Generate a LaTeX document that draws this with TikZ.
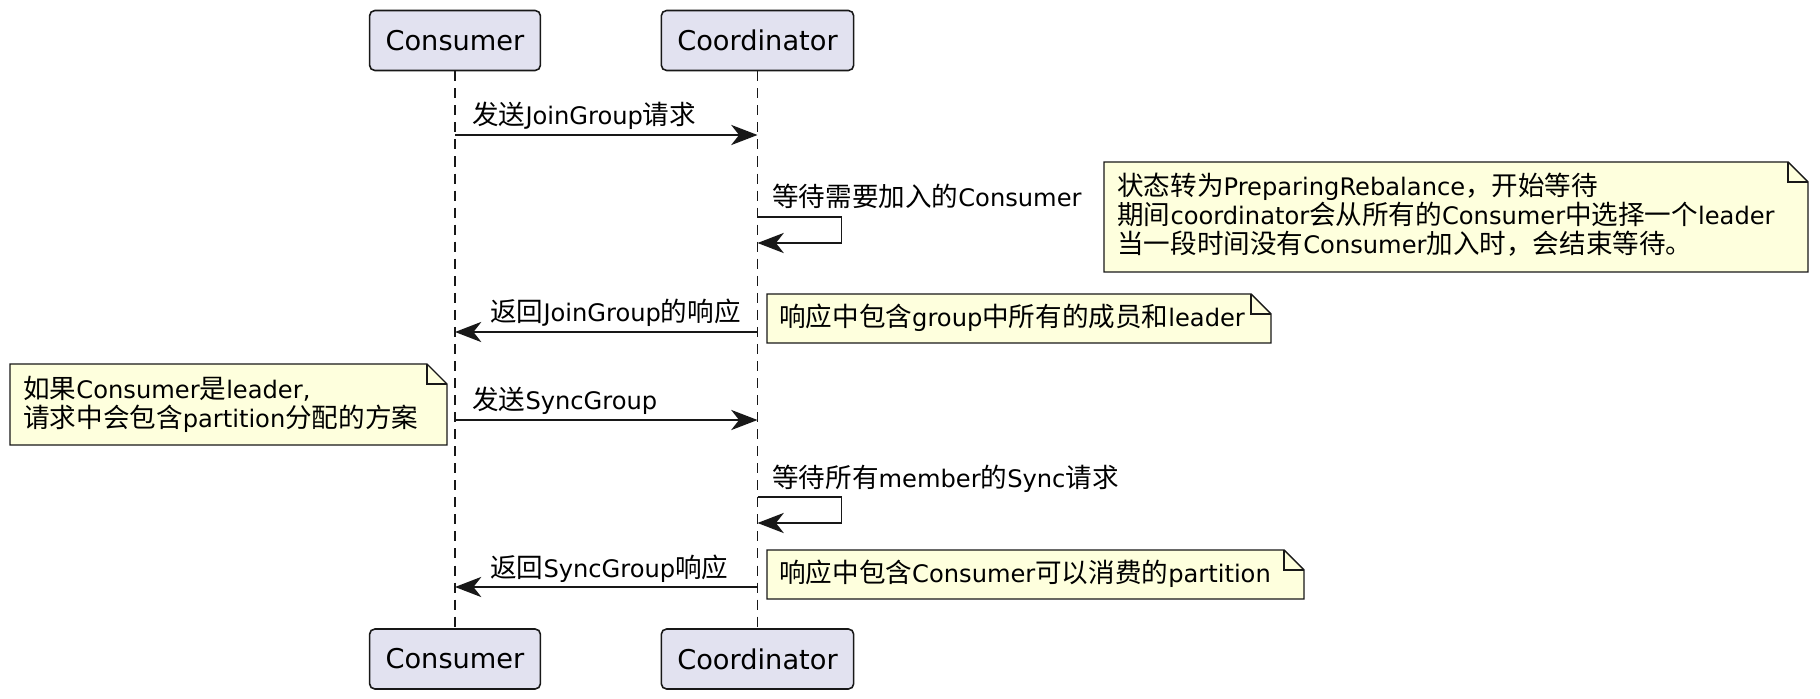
\documentclass[tikz,border=0pt]{standalone}
\usepackage{fontspec}
\setmainfont{DejaVu Sans}
\newfontfamily\cjk[Scale=1.1]{Noto Sans CJK SC}
\usetikzlibrary{arrows.meta}

\definecolor{linecol}{HTML}{181818}
\definecolor{actorfill}{HTML}{E2E2F0}
\definecolor{notefill}{HTML}{FEFFDD}
\AtBeginDocument{\lineskiplimit=-20pt\relax}

\begin{document}
\begin{tikzpicture}[
    x=0.02cm, y=-0.02cm,
    actor/.style={draw=linecol, fill=actorfill, rounded corners=3pt, line width=0.9pt,
        inner xsep=0.32cm, minimum height=1.2cm, font=\fontsize{15.5}{18}\selectfont},
    lifeline/.style={draw=linecol, line width=0.6pt, dash pattern=on 5.7pt off 4pt},
    msg/.style={draw=linecol, line width=1.1pt, -{Stealth[length=15pt, width=11.5pt, inset=4.5pt]}},
    lbl/.style={inner sep=0pt, anchor=base west, font=\fontsize{13.75}{16}\selectfont},
    notebox/.style={draw=linecol, fill=notefill, line width=0.8pt, line join=miter},
    notetext/.style={inner sep=0pt, anchor=west, align=left,
        font=\fontsize{13.75}{16.6}\selectfont}
]
    \useasboundingbox (0,0) rectangle (1820,699);

    % participants
    \node[actor] (cons) at (455,40.5) {Consumer};
    \node[actor] (coord) at (757.5,40.5) {Coordinator};
    \node[actor] (consB) at (455,659) {Consumer};
    \node[actor] (coordB) at (757.5,659) {Coordinator};
    \draw[lifeline] (cons.south) -- (consB.north);
    \draw[lifeline] (coord.south) -- (coordB.north);

    % JoinGroup
    \draw[msg] (cons.south |- 0,135) -- (coord.south |- 0,135);
    \node[lbl] (m1) at (472,125) {{\cjk 发送}JoinGroup{\cjk 请求}};

    \draw[msg] (coord.south |- 0,217) -- ++(84,0) -- ++(0,26) -- (coord.south |- 0,243);
    \node[lbl] (m2) at (772,207) {{\cjk 等待需要加入的}Consumer};

    \draw[notebox] (1104,162) -- (1788,162) -- (1808,182) -- (1808,272) -- (1104,272) -- cycle;
    \draw[notebox, fill=none] (1788,162) -- (1788,182) -- (1808,182);
    \node[notetext] (n1) at (1117,215) {{\cjk 状态转为}PreparingRebalance{\cjk ，开始等待}\\
        {\cjk 期间}coordinator{\cjk 会从所有的}Consumer{\cjk 中选择一个}leader\\
        {\cjk 当一段时间没有}Consumer{\cjk 加入时，会结束等待。}};

    \draw[msg] (coord.south |- 0,332) -- (cons.south |- 0,332);
    \node[lbl] (m3) at (490,322) {{\cjk 返回}JoinGroup{\cjk 的响应}};

    \draw[notebox] (767,294) -- (1251,294) -- (1271,314) -- (1271,343) -- (767,343) -- cycle;
    \draw[notebox, fill=none] (1251,294) -- (1251,314) -- (1271,314);
    \node[notetext] (n2) at (779,318) {{\cjk 响应中包含}group{\cjk 中所有的成员和}leader};

    % SyncGroup
    \draw[notebox] (10,364) -- (427,364) -- (447,384) -- (447,445) -- (10,445) -- cycle;
    \draw[notebox, fill=none] (427,364) -- (427,384) -- (447,384);
    \node[notetext] (n3) at (23,404) {{\cjk 如果}Consumer{\cjk 是}leader,\\
        {\cjk 请求中会包含}partition{\cjk 分配的方案}};

    \draw[msg] (cons.south |- 0,420) -- (coord.south |- 0,420);
    \node[lbl] (m4) at (472,410) {{\cjk 发送}SyncGroup};

    \draw[msg] (coord.south |- 0,497) -- ++(84,0) -- ++(0,26) -- (coord.south |- 0,523);
    \node[lbl] (m5) at (772,487) {{\cjk 等待所有}member{\cjk 的}Sync{\cjk 请求}};

    \draw[msg] (coord.south |- 0,587) -- (cons.south |- 0,587);
    \node[lbl] (m6) at (490,577) {{\cjk 返回}SyncGroup{\cjk 响应}};

    \draw[notebox] (767,550) -- (1284,550) -- (1304,570) -- (1304,599) -- (767,599) -- cycle;
    \draw[notebox, fill=none] (1284,550) -- (1284,570) -- (1304,570);
    \node[notetext] (n4) at (779,574) {{\cjk 响应中包含}Consumer{\cjk 可以消费的}partition};
\end{tikzpicture}
\end{document}
